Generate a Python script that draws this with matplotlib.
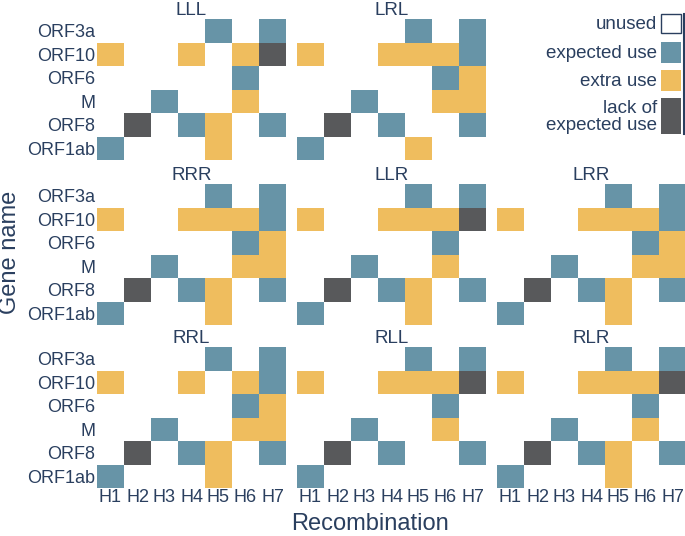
import matplotlib
matplotlib.use("Agg")
import matplotlib.pyplot as plt
import numpy as np
from matplotlib.colors import ListedColormap, BoundaryNorm
from matplotlib.patches import Rectangle

plt.rcParams['font.family'] = ['Liberation Sans', 'DejaVu Sans']

genes = ["ORF3a", "ORF10", "ORF6", "M", "ORF8", "ORF1ab"]
haplotypes = ["H1", "H2", "H3", "H4", "H5", "H6", "H7"]
status_labels = ["unused", "expected use", "extra use", "lack of\nexpected use"]
status_colors = ["#ffffff", "#6794a7", "#efbd5e", "#58595b"]

# 0 unused, 1 expected use, 2 extra use, 3 lack of expected use
LLL = [[0, 0, 0, 0, 1, 0, 1],
       [2, 0, 0, 2, 0, 2, 3],
       [0, 0, 0, 0, 0, 1, 0],
       [0, 0, 1, 0, 0, 2, 0],
       [0, 3, 0, 1, 2, 0, 1],
       [1, 0, 0, 0, 2, 0, 0]]
LRL = [[0, 0, 0, 0, 1, 0, 1],
       [2, 0, 0, 2, 2, 2, 1],
       [0, 0, 0, 0, 0, 1, 2],
       [0, 0, 1, 0, 0, 2, 2],
       [0, 3, 0, 1, 0, 0, 1],
       [1, 0, 0, 0, 2, 0, 0]]
RRR = [[0, 0, 0, 0, 1, 0, 1],
       [2, 0, 0, 2, 2, 2, 1],
       [0, 0, 0, 0, 0, 1, 2],
       [0, 0, 1, 0, 0, 2, 2],
       [0, 3, 0, 1, 2, 0, 1],
       [1, 0, 0, 0, 2, 0, 0]]
LLR = [[0, 0, 0, 0, 1, 0, 1],
       [2, 0, 0, 2, 2, 2, 3],
       [0, 0, 0, 0, 0, 1, 0],
       [0, 0, 1, 0, 0, 2, 0],
       [0, 3, 0, 1, 2, 0, 1],
       [1, 0, 0, 0, 2, 0, 0]]
LRR = [[0, 0, 0, 0, 1, 0, 1],
       [2, 0, 0, 2, 2, 2, 1],
       [0, 0, 0, 0, 0, 1, 2],
       [0, 0, 1, 0, 0, 2, 2],
       [0, 3, 0, 1, 2, 0, 1],
       [1, 0, 0, 0, 2, 0, 0]]
RRL = [[0, 0, 0, 0, 1, 0, 1],
       [2, 0, 0, 2, 0, 2, 1],
       [0, 0, 0, 0, 0, 1, 2],
       [0, 0, 1, 0, 0, 2, 2],
       [0, 3, 0, 1, 2, 0, 1],
       [1, 0, 0, 0, 2, 0, 0]]
RLL = [[0, 0, 0, 0, 1, 0, 1],
       [2, 0, 0, 2, 2, 2, 3],
       [0, 0, 0, 0, 0, 1, 0],
       [0, 0, 1, 0, 0, 2, 0],
       [0, 3, 0, 1, 0, 0, 1],
       [1, 0, 0, 0, 0, 0, 0]]
RLR = [[0, 0, 0, 0, 1, 0, 1],
       [2, 0, 0, 2, 2, 2, 3],
       [0, 0, 0, 0, 0, 1, 0],
       [0, 0, 1, 0, 0, 2, 0],
       [0, 3, 0, 1, 2, 0, 1],
       [1, 0, 0, 0, 2, 0, 0]]

panels = [("LLL", LLL, 0, 0), ("LRL", LRL, 0, 1),
          ("RRR", RRR, 1, 0), ("LLR", LLR, 1, 1), ("LRR", LRR, 1, 2),
          ("RRL", RRL, 2, 0), ("RLL", RLL, 2, 1), ("RLR", RLR, 2, 2)]

TXT = "#2a3f5f"
W, H = 685, 536
fig = plt.figure(figsize=(W / 100, H / 100), dpi=100)

col_x = [97, 297, 497]
row_y = [19, 184, 347]
pw, ph = 189, 141

cmap = ListedColormap(status_colors)
norm = BoundaryNorm([-0.5, 0.5, 1.5, 2.5, 3.5], cmap.N)

for name, mat, r, c in panels:
    ax = fig.add_axes([col_x[c] / W, 1 - (row_y[r] + ph) / H, pw / W, ph / H])
    data = np.array(mat)
    ax.pcolormesh(np.arange(len(haplotypes) + 1) - 0.5, np.arange(len(genes) + 1) - 0.5,
                  data, cmap=cmap, norm=norm, edgecolors="none", linewidth=0)
    ax.set_xlim(-0.5, len(haplotypes) - 0.5)
    ax.set_ylim(len(genes) - 0.5, -0.5)
    for s in ax.spines.values():
        s.set_visible(False)
    ax.tick_params(length=0, pad=1, colors=TXT, labelsize=13)
    ax.set_xticks(range(len(haplotypes)))
    ax.set_yticks(range(len(genes)))
    if r == 2:
        ax.set_xticklabels(haplotypes)
    else:
        ax.set_xticklabels([])
    if c == 0:
        ax.set_yticklabels(genes)
    else:
        ax.set_yticklabels([])
    ax.set_title(name, color=TXT, fontsize=13.5, pad=2)

# overlay for labels and legend
ov = fig.add_axes([0, 0, 1, 1])
ov.set_xlim(0, W)
ov.set_ylim(H, 0)
ov.axis("off")
ov.text(10, 252, "Gene name", rotation=90, ha="center", va="center", color=TXT, fontsize=17)
ov.text(370, 524, "Recombination", ha="center", va="center", color=TXT, fontsize=17)

leg_boxes = [(14, 33), (42, 63), (70, 91), (98, 134)]
for (y0, y1), lab, col in zip(leg_boxes, status_labels, status_colors):
    ov.add_patch(Rectangle((661, y0), 20, y1 - y0, facecolor=col,
                           edgecolor=TXT if col == "#ffffff" else "none", linewidth=1))
    ov.text(657, (y0 + y1) / 2 + 1, lab, ha="right", va="center", color=TXT,
            fontsize=13.5, linespacing=0.95)
ov.plot([684, 684], [14, 134], color=TXT, linewidth=1.5)

fig.savefig("out.png", dpi=100)
